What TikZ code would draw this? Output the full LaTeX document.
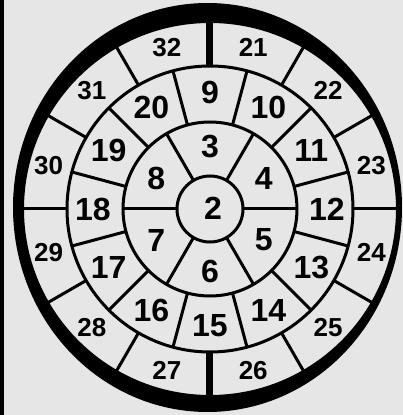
\documentclass[tikz,border=0pt]{standalone}
\usepackage{fontspec}
\setmainfont{Liberation Sans}
\definecolor{paper}{RGB}{230,230,230}

\begin{document}
\begin{tikzpicture}[
  x=1pt, y=1pt,
  ring/.style={line width=3pt, black},
  wall/.style={line width=7pt, black},
  num/.style={font=\fontsize{32}{32}\selectfont\bfseries, inner sep=0pt},
  outnum/.style={font=\fontsize{26}{26}\selectfont\bfseries, inner sep=0pt}
]

% ================= PAPER =================
\fill[paper] (-210,-206) rectangle (193,209);
\fill[black] (-210,-206) rectangle (-206,209);

% ================= RINGS =================
\draw[ring] (0,0) circle[radius=33];
\draw[ring] (0,0) circle[radius=87];
\draw[ring] (0,0) circle[radius=143];

% thick rim
\fill[black, even odd rule]
(-2.5,1.5) ellipse[x radius=194.5, y radius=204.5]
(0,0) circle[radius=186];

% ================= SPOKES =================
\foreach \a in {0,60,...,300}
  \draw[ring] (\a:33) -- (\a:87);

\foreach \a in {15,45,...,345}
  \draw[ring] (\a:87) -- (\a:143);

\foreach \a in {0,30,60,120,150,180,210,240,300,330}
  \draw[ring] (\a:143) -- (\a:187);

\draw[wall] (90:143) -- (90:188);
\draw[wall] (270:143) -- (270:188);

% ================= NUMBERS =================
\node[num] (n2) at (3,1) {2};

\foreach \val/\a in {
  3/90, 4/30, 5/-30, 6/-90, 7/-150, 8/150}
{
  \node[num] (n\val) at (\a:62) {\val};
}

\foreach \val/\a in {
   9/90, 10/60, 11/30, 12/0, 13/-30, 14/-60,
  15/-90,16/-120,17/-150,18/180,19/150,20/120}
{
  \node[num] (n\val) at (\a:117) {\val};
}

\foreach \val/\a in {
  21/75, 22/45, 23/15, 24/-15, 25/-45, 26/-75,
  27/-105,28/-135,29/-165,30/165,31/135,32/105}
{
  \node[outnum] (n\val) at (\a:167) {\val};
}

\end{tikzpicture}
\end{document}
